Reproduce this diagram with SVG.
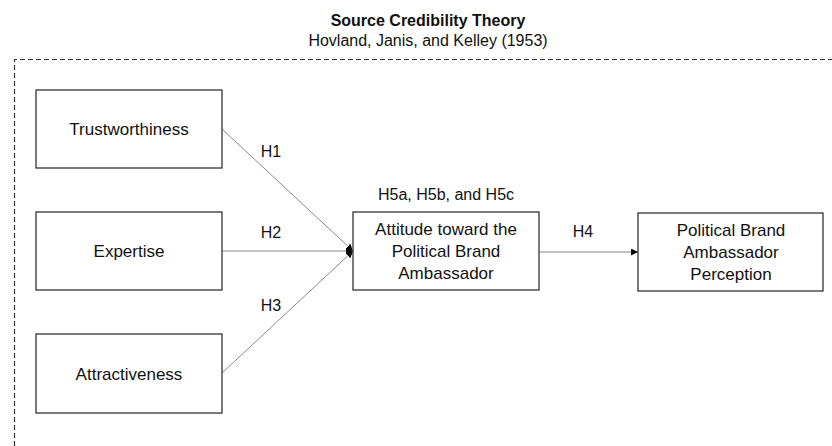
<svg xmlns="http://www.w3.org/2000/svg" width="832" height="446" viewBox="0 0 832 446">
<style>
.box{fill:#fff;stroke:#333;stroke-width:1.3}
.t{font-family:"Liberation Sans",Arial,sans-serif;font-size:17px;fill:#111;text-anchor:middle}
.h{font-family:"Liberation Sans",Arial,sans-serif;font-size:16px;fill:#111;text-anchor:middle}
.conn{stroke:#8a8a8a;stroke-width:1;fill:none}
</style>
<defs>
<marker id="ah" viewBox="0 0 10 10" refX="10" refY="5" markerWidth="7" markerHeight="7" markerUnits="userSpaceOnUse" orient="auto">
<path d="M0,0 L10,5 L0,10 z" fill="#000"/>
</marker>
</defs>
<rect width="832" height="446" fill="#fff"/>
<g id="title">
<text x="428" y="26" class="h" font-weight="bold">Source Credibility Theory</text>
<text x="428" y="46" class="h">Hovland, Janis, and Kelley (1953)</text>
</g>
<path id="frame" d="M14.5,446 V59.5 H832" fill="none" stroke="#333" stroke-width="1.2" stroke-dasharray="5,3"/>
<g id="connectors">
<line class="conn" x1="222" y1="129" x2="353" y2="251" marker-end="url(#ah)"/>
<line class="conn" x1="222" y1="251" x2="353" y2="251" marker-end="url(#ah)"/>
<line class="conn" x1="222" y1="373" x2="353" y2="251" marker-end="url(#ah)"/>
<line class="conn" x1="539" y1="252" x2="638" y2="252" marker-end="url(#ah)"/>
<text class="h" x="271" y="157">H1</text>
<text class="h" x="271" y="238">H2</text>
<text class="h" x="271" y="311">H3</text>
<text class="h" x="583" y="237">H4</text>
<text class="h" x="446" y="200">H5a, H5b, and H5c</text>
</g>
<g id="trustworthiness">
<rect class="box" x="36" y="90" width="186" height="78"/>
<text class="t" x="129" y="135">Trustworthiness</text>
</g>
<g id="expertise">
<rect class="box" x="36" y="212" width="186" height="78"/>
<text class="t" x="129" y="257">Expertise</text>
</g>
<g id="attractiveness">
<rect class="box" x="36" y="334" width="186" height="79"/>
<text class="t" x="129" y="380">Attractiveness</text>
</g>
<g id="attitude">
<rect class="box" x="353" y="212" width="186" height="78"/>
<text class="t" x="446" y="235">Attitude toward the</text>
<text class="t" x="446" y="257">Political Brand</text>
<text class="t" x="446" y="279">Ambassador</text>
</g>
<g id="perception">
<rect class="box" x="638" y="213" width="185" height="78"/>
<text class="t" x="731" y="236">Political Brand</text>
<text class="t" x="731" y="258">Ambassador</text>
<text class="t" x="731" y="280">Perception</text>
</g>
</svg>
